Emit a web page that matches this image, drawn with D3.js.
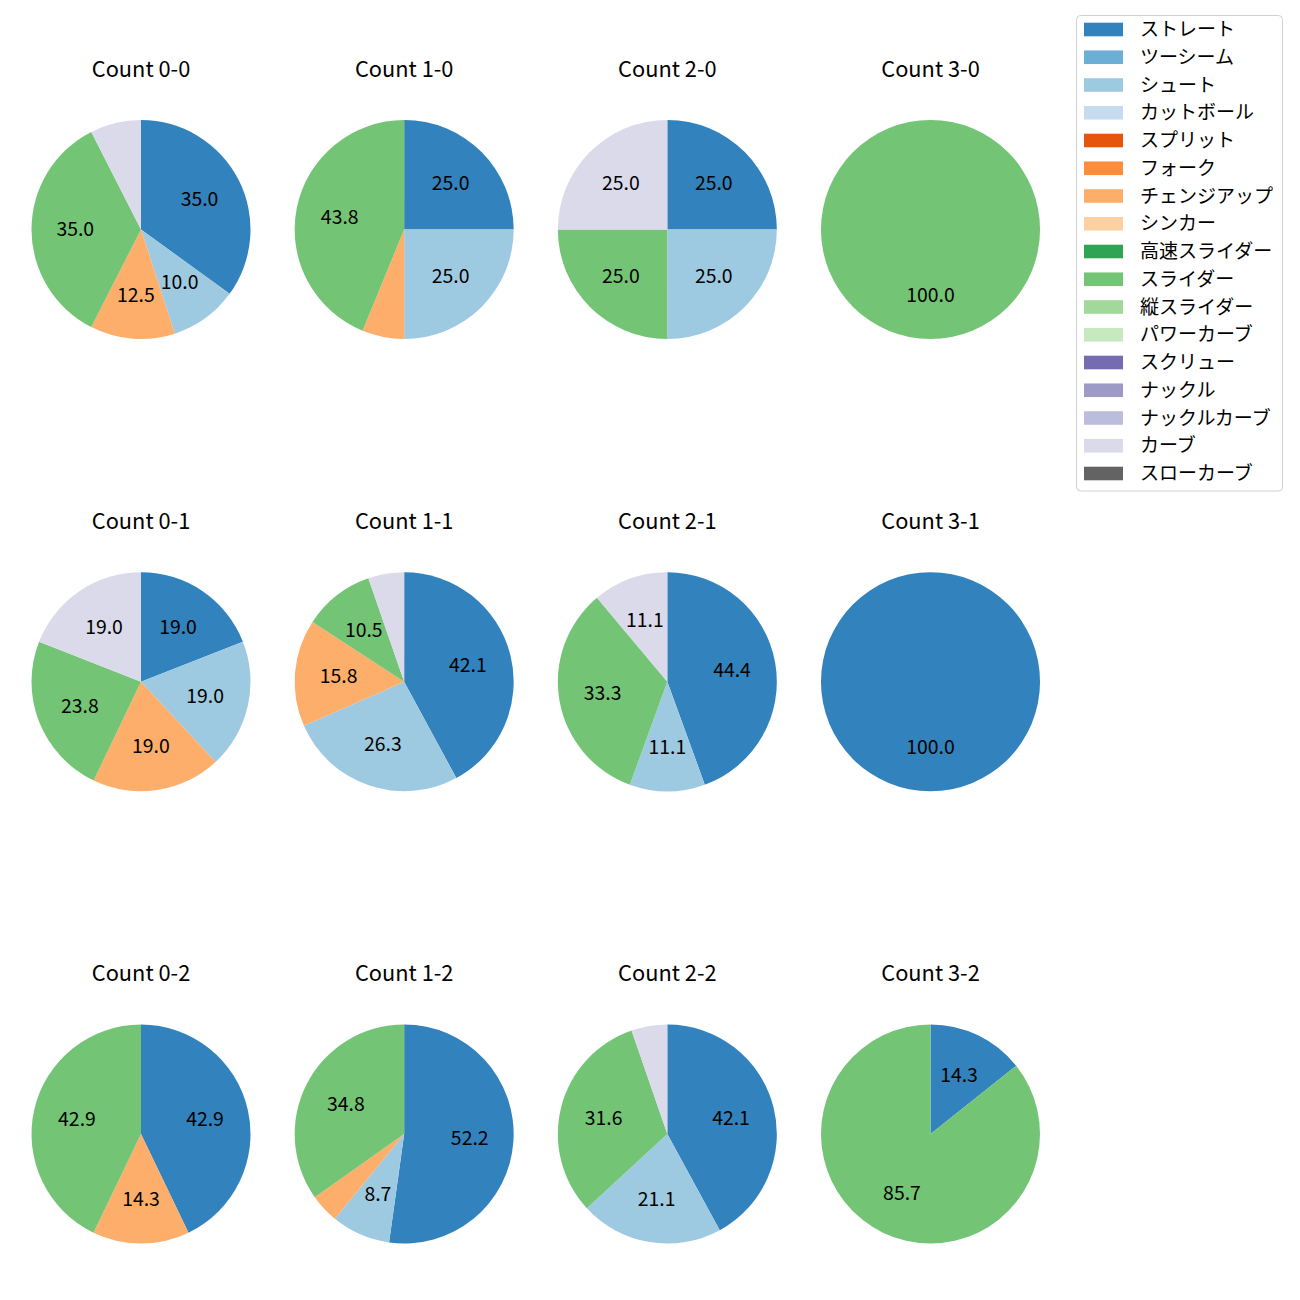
<!DOCTYPE html>
<html><head><meta charset="utf-8">
<script src="https://cdn.jsdelivr.net/npm/d3@7"></script>
<style>body{margin:0;background:#fff}svg{display:block}text{font-family:"Noto Sans CJK JP","Noto Sans",sans-serif}</style>
</head><body>
<svg id="c" width="1300" height="1300"></svg>
<script>
const pitchTypes = ["ストレート","ツーシーム","シュート","カットボール","スプリット","フォーク","チェンジアップ","シンカー","高速スライダー","スライダー","縦スライダー","パワーカーブ","スクリュー","ナックル","ナックルカーブ","カーブ","スローカーブ"];
const pitchColors = ["#3182bd","#6baed6","#9ecae1","#c6dbef","#e6550d","#fd8d3c","#fdae6b","#fdd0a2","#31a354","#74c476","#a1d99b","#c7e9c0","#756bb1","#9e9ac8","#bcbddc","#dadaeb","#636363"];
const countTitles = ["Count 0-0","Count 1-0","Count 2-0","Count 3-0","Count 0-1","Count 1-1","Count 2-1","Count 3-1","Count 0-2","Count 1-2","Count 2-2","Count 3-2"];
// percentages per pitch type (only non-zero types listed)
const count00 = {"ストレート":35.0,"シュート":10.0,"チェンジアップ":12.5,"スライダー":35.0,"カーブ":7.5};
const count10 = {"ストレート":25.0,"シュート":25.0,"チェンジアップ":6.2,"スライダー":43.8};
const count20 = {"ストレート":25.0,"シュート":25.0,"スライダー":25.0,"カーブ":25.0};
const count30 = {"スライダー":100.0};
const count01 = {"ストレート":19.0,"シュート":19.0,"チェンジアップ":19.0,"スライダー":23.8,"カーブ":19.0};
const count11 = {"ストレート":42.1,"シュート":26.3,"チェンジアップ":15.8,"スライダー":10.5,"カーブ":5.3};
const count21 = {"ストレート":44.4,"シュート":11.1,"スライダー":33.3,"カーブ":11.1};
const count31 = {"ストレート":100.0};
const count02 = {"ストレート":42.9,"チェンジアップ":14.3,"スライダー":42.9};
const count12 = {"ストレート":52.2,"シュート":8.7,"チェンジアップ":4.3,"スライダー":34.8};
const count22 = {"ストレート":42.1,"シュート":21.1,"スライダー":31.6,"カーブ":5.3};
const count32 = {"ストレート":14.3,"スライダー":85.7};
const countData = [count00,count10,count20,count30,count01,count11,count21,count31,count02,count12,count22,count32];

const svg = d3.select("#c");
const color = d3.scaleOrdinal().domain(pitchTypes).range(pitchColors);
const colX = d3.scalePoint().domain([0,1,2,3]).range([141,930.5]);
const rowY = d3.scalePoint().domain([0,1,2]).range([229.5,1134]);
const R = 109.5;
const pie = d3.pie().sort(null).value(d=>d.v).startAngle(0).endAngle(2*Math.PI);
const arc = d3.arc().innerRadius(0).outerRadius(R);
const labelArc = d3.arc().innerRadius(R*0.6).outerRadius(R*0.6);

countData.forEach((cd,i)=>{
  const cx = colX(i%4), cy = rowY(Math.floor(i/4));
  const g = svg.append("g").attr("transform",`translate(${cx},${cy})`);
  const items = pitchTypes.filter(p=>cd[p]!==undefined).map(p=>({k:p,v:cd[p]}));
  const arcs = pie(items);
  g.selectAll("path").data(arcs).join("path").attr("d",arc).attr("fill",d=>color(d.data.k));
  g.selectAll("text.pct").data(arcs.filter(d=>d.data.v>=8)).join("text").attr("class","pct")
    .attr("transform",d=>`translate(${labelArc.centroid(d)})`)
    .attr("text-anchor","middle").attr("dy","0.35em").attr("font-size",19.4).attr("fill","#000")
    .text(d=>d.data.v.toFixed(1));
  svg.append("text").attr("x",cx).attr("y",cy-160.5).attr("text-anchor","middle").attr("dy","0.35em")
    .attr("font-size",21.8).attr("fill","#000").text(countTitles[i]);
});

// legend
const lg = svg.append("g");
lg.append("rect").attr("x",1076.5).attr("y",15.5).attr("width",206).attr("height",475.5).attr("rx",4)
  .attr("fill","#fff").attr("stroke","#d0d0d0").attr("stroke-width",1);
const ly = d3.scalePoint().domain(pitchTypes).range([29.5,473.5]);
pitchTypes.forEach(p=>{
  lg.append("rect").attr("x",1084).attr("y",ly(p)-6.8).attr("width",39).attr("height",13.6).attr("fill",color(p));
  lg.append("text").attr("x",1140).attr("y",ly(p)).attr("dy","0.35em").attr("font-size",19).attr("fill","#000").text(p);
});
</script>
</body></html>
